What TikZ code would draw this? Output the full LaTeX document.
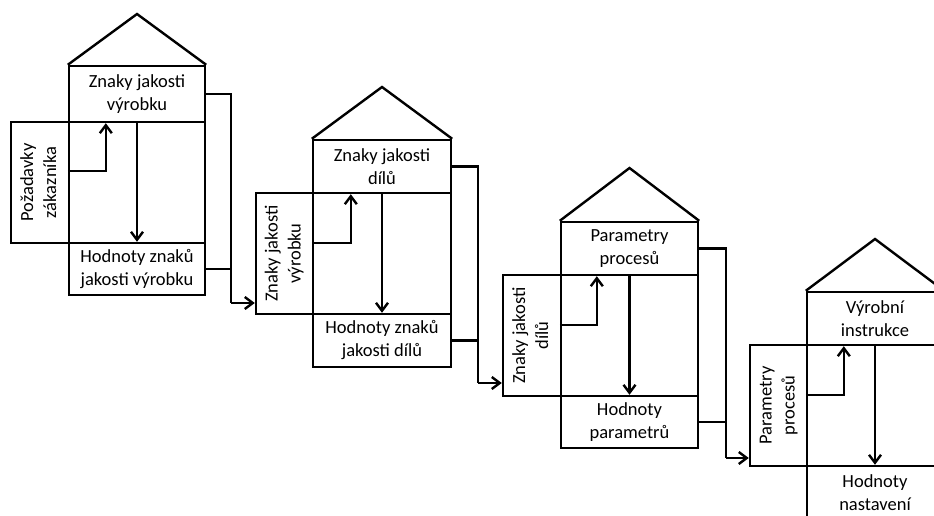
\documentclass[tikz,border=0pt]{standalone}
\usepackage{fontspec}
\setmainfont{Carlito}
\usetikzlibrary{arrows.meta}

\newcommand{\vlabel}[1]{\rotatebox{90}{\begin{tabular}{@{}c@{}}#1\end{tabular}}}

\begin{document}
\begin{tikzpicture}[
  x=1pt, y=-1pt,
  every node/.style={font=\fontsize{18.5}{23}\selectfont, align=center},
  box/.style={draw, line width=2.4pt, inner sep=0pt, minimum width=136pt},
  sidebox/.style={draw, line width=2.4pt, inner sep=0pt, minimum width=57pt, minimum height=121pt},
  line/.style={draw, line width=2.4pt},
  arr/.style={line, -{Straight Barb[length=8pt, width=12pt]}}
]
\useasboundingbox (0,0) rectangle (934,515);

% House 1
\node[box, minimum height=56pt] (top1) at (137, 94) {Znaky jakosti\\výrobku};
\node[box, minimum height=121pt] (mid1) at (137, 182.5) {};
\node[box, minimum height=52pt] (bot1) at (137, 269) {Hodnoty znaků\\jakosti výrobku};
\node[sidebox, minimum width=58pt] (left1) at (40, 182.5) {\vlabel{Požadavky\\zákazníka}};
\draw[line] (top1.north west) -- (137, 14) -- (top1.north east);

% House 2
\node[box, minimum width=138pt, minimum height=53pt] (top2) at (382, 166.5) {Znaky jakosti\\dílů};
\node[box, minimum width=138pt, minimum height=121pt] (mid2) at (382, 253.5) {};
\node[box, minimum width=138pt, minimum height=53pt] (bot2) at (382, 340.5) {Hodnoty znaků\\jakosti dílů};
\node[sidebox] (left2) at (284.5, 253.5) {\vlabel{Znaky jakosti\\výrobku}};
\draw[line] (top2.north west) -- (382, 87) -- (top2.north east);

% House 3
\node[box, minimum width=137pt, minimum height=53pt] (top3) at (629.5, 248.5) {Parametry\\procesů};
\node[box, minimum width=137pt, minimum height=121pt] (mid3) at (629.5, 335.5) {};
\node[box, minimum width=137pt, minimum height=52pt] (bot3) at (629.5, 422) {Hodnoty\\parametrů};
\node[sidebox, minimum width=58pt] (left3) at (532, 335.5) {\vlabel{Znaky jakosti\\dílů}};
\draw[line] (top3.north west) -- (629.5, 168) -- (top3.north east);

% House 4
\node[box, minimum height=53pt] (top4) at (875, 318.5) {Výrobní\\instrukce};
\node[box, minimum height=121pt] (mid4) at (875, 405.5) {};
\node[box, minimum height=53pt] (bot4) at (875, 492.5) {Hodnoty\\nastavení};
\node[sidebox] (left4) at (778.5, 405.5) {\vlabel{Parametry\\procesů}};
\draw[line] (top4.north west) -- (875, 239) -- (top4.north east);

% Arrows inside the houses
\draw[arr] ([yshift=-50pt]mid1.north west) -| ([xshift=38pt]top1.south west);
\draw[arr] (top1.south) -- (bot1.north);
\draw[arr] ([yshift=-51pt]mid2.north west) -| ([xshift=39pt]top2.south west);
\draw[arr] (top2.south) -- (bot2.north);
\draw[arr] ([yshift=-51pt]mid3.north west) -| ([xshift=37pt]top3.south west);
\draw[arr] (top3.south) -- (bot3.north);
\draw[arr] ([yshift=-51pt]mid4.north west) -| ([xshift=38pt]top4.south west);
\draw[arr] (top4.south) -- (bot4.north);

% Links from one house to the next
\coordinate (bend1) at (231, 303);
\coordinate (bend2) at (478, 383);
\coordinate (bend3) at (726, 458);

\draw[line] (top1.east) -| (bend1);
\draw[line] (bot1.east) -- (bot1.east -| bend1);
\draw[arr] (bend1) -- (left2.west |- bend1);

\draw[line] (top2.east) -| (bend2);
\draw[line] (bot2.east) -- (bot2.east -| bend2);
\draw[arr] (bend2) -- (left3.west |- bend2);

\draw[line] (top3.east) -| (bend3);
\draw[line] (bot3.east) -- (bot3.east -| bend3);
\draw[arr] (bend3) -- (left4.west |- bend3);

\end{tikzpicture}
\end{document}
